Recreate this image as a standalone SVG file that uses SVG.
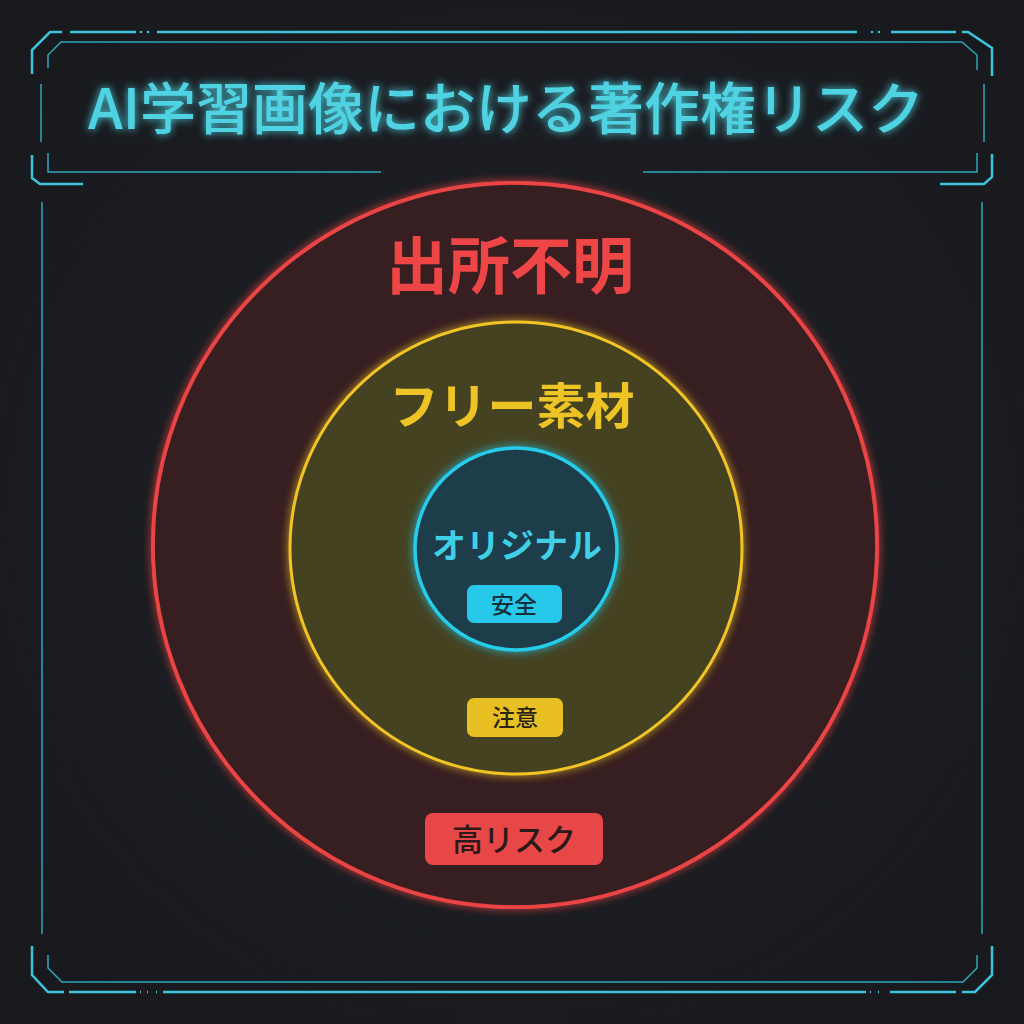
<svg xmlns="http://www.w3.org/2000/svg" width="1024" height="1024" viewBox="0 0 1024 1024">
<defs>
<style>
.fr{fill:none;stroke:#3cc4dc;stroke-width:2.5}
.fi{fill:none;stroke:#2fa6bc;stroke-width:1.5}
.t{font-family:"Noto Sans CJK JP","Noto Sans",sans-serif;text-anchor:middle}
</style>
<filter id="glow" x="-20%" y="-20%" width="140%" height="140%">
<feGaussianBlur stdDeviation="4" result="b"/>
<feMerge><feMergeNode in="b"/><feMergeNode in="SourceGraphic"/></feMerge>
</filter>
<radialGradient id="bg" cx="50%" cy="50%" r="70%">
<stop offset="0" stop-color="#1e2126"/>
<stop offset="1" stop-color="#17191d"/>
</radialGradient>
</defs>
<rect width="1024" height="1024" fill="url(#bg)"/>
<g id="frame">
<path class="fr" d="M32,74 V50 L50,32 H62 M70,32 H136 M157,32 H857 M891,32 H956 M962,32 H968 L992,48 V76"/>
<circle cx="141" cy="32" r="1.3" fill="#3cc4dc"/><circle cx="148" cy="32" r="1.3" fill="#3cc4dc"/>
<circle cx="872" cy="32" r="1.3" fill="#3cc4dc"/><circle cx="879" cy="32" r="1.3" fill="#3cc4dc"/>
<path class="fr" d="M32,155 V178 L40,184 H83"/>
<path class="fr" d="M992,154 V177 L984,184 H940"/>
<path class="fi" d="M41,84 V142 M984,84 V142"/>
<path class="fi" d="M48,68 V55 L61,42 H962 L977,55 V70"/>
<path class="fi" d="M48,153 V172 H381 M643,172 H977 V153"/>
<path class="fi" d="M42,202 V934 M982,202 V934"/>
<path class="fr" d="M32,946 V975 L48,992 H64 M69,992 H136 M163,992 H866 M890,992 H956 M962,992 H975 L992,975 V946"/>
<path class="fr" d="M140,992 H141 M147,992 H148 M156,992 H157 M870,992 H871 M878,992 H879"/>
<path class="fi" d="M48,955 V968 L62,982 H963 L977,968 V955"/>
</g>
<g id="title">
<text class="t" x="506" y="129" font-size="56" font-weight="500" fill="#4fd3e3" filter="url(#glow)">AI学習画像における著作権リスク</text>
</g>
<g id="outer">
<circle cx="515" cy="545" r="362" fill="#371f21" stroke="#ea4444" stroke-width="4" filter="url(#glow)"/>
<circle cx="515" cy="545" r="362" fill="#371f21" fill-opacity="0.6" stroke="#ea4444" stroke-width="3.5"/>
<text class="t" x="510" y="289" font-size="62" font-weight="700" fill="#ee4646">出所不明</text>
<rect x="425" y="813" width="178" height="52" rx="8" fill="#e84747"/>
<text class="t" x="514" y="851" font-size="31" font-weight="500" fill="#2a1a1a">高リスク</text>
</g>
<g id="middle">
<circle cx="516" cy="548" r="226" fill="#454220" stroke="#f2c426" stroke-width="3" filter="url(#glow)"/>
<text class="t" x="512" y="424" font-size="49" font-weight="700" fill="#eec326">フリー素材</text>
<rect x="467" y="698" width="96" height="39" rx="7" fill="#e9c024"/>
<text class="t" x="515" y="726" font-size="23" font-weight="500" fill="#2a2412">注意</text>
</g>
<g id="inner">
<circle cx="516" cy="549" r="101" fill="#1f3d4a" stroke="#28cdea" stroke-width="3.5" filter="url(#glow)"/>
<text class="t" x="517" y="558" font-size="34" font-weight="700" fill="#3fcfe6">オリジナル</text>
<rect x="467" y="585" width="95" height="38" rx="7" fill="#28c8ea"/>
<text class="t" x="514" y="613" font-size="23" font-weight="500" fill="#16303a">安全</text>
</g>
<g id="connectors"/>
</svg>
